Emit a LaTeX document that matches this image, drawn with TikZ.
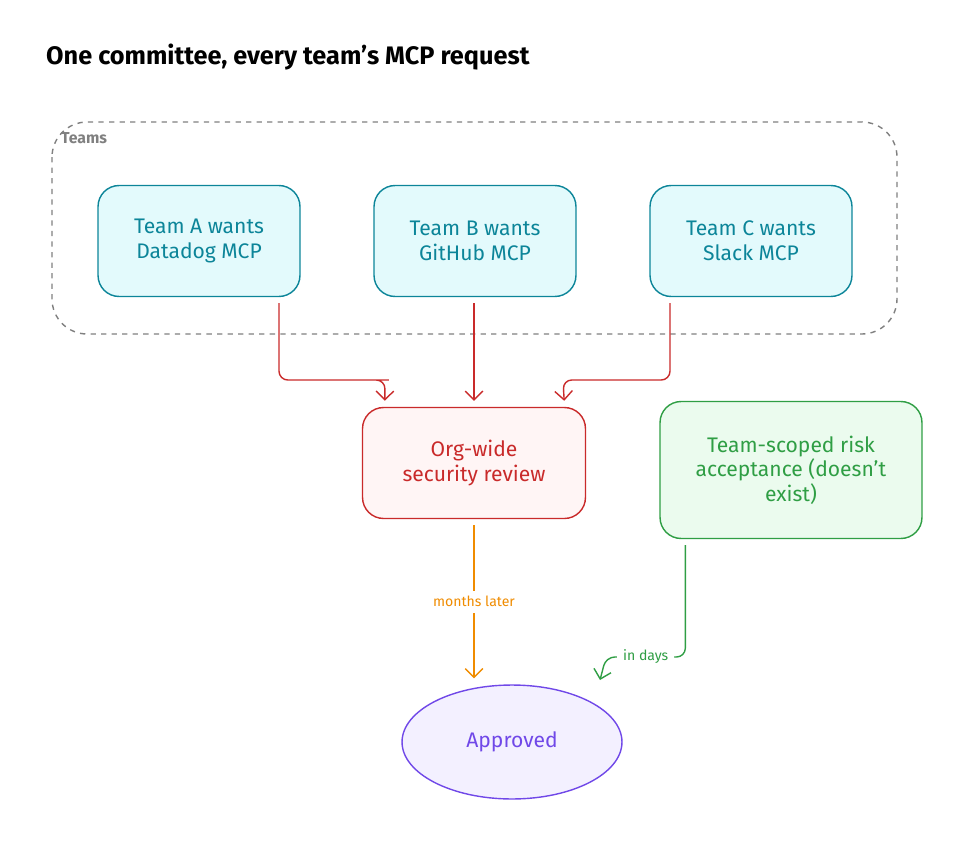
\documentclass[tikz,border=0pt]{standalone}
\usepackage{fontspec}
\setmainfont{Fira Sans}
\usetikzlibrary{positioning, calc, arrows.meta, shapes.geometric}
\definecolor{teal}{HTML}{0C8599}
\definecolor{tealfill}{HTML}{E3FAFC}
\definecolor{redline}{HTML}{C92A2A}
\definecolor{redfill}{HTML}{FFF5F5}
\definecolor{greenline}{HTML}{2F9E44}
\definecolor{greenfill}{HTML}{EBFBEE}
\definecolor{violet}{HTML}{7048E8}
\definecolor{violetfill}{HTML}{F3F0FF}
\definecolor{orangeline}{HTML}{F08C00}
\tikzset{
  teambox/.style={draw=teal, fill=tealfill, thick, rounded corners=12pt, text=teal,
    minimum width=4.04cm, minimum height=2.22cm, align=center, font=\large},
  arr/.style={->, >={Straight Barb[length=5pt]}, thick},
}
\begin{document}
\begin{tikzpicture}[x=0.02cm, y=-0.02cm]
\useasboundingbox (0,0) rectangle (963,841);
\node[anchor=west, font=\Large\bfseries] (title) at (40,57) {One committee, every team's MCP request};

\draw[gray, dashed, thick, rounded corners=20pt] (52,122) rectangle (897,334);
\node[anchor=west, gray, font=\small\bfseries] (teams) at (55,138) {Teams};

\node[teambox] (teamA) at (199,241) {Team A wants\\Datadog MCP};
\node[teambox] (teamB) at (475,241) {Team B wants\\GitHub MCP};
\node[teambox] (teamC) at (751,241) {Team C wants\\Slack MCP};

\node[draw=redline, fill=redfill, thick, rounded corners=12pt, text=redline, minimum width=4.46cm,
  minimum height=2.22cm, align=center, font=\large] (review) at (474,463) {Org-wide\\security review};
\node[draw=greenline, fill=greenfill, thick, rounded corners=12pt, text=greenline, minimum width=5.24cm,
  minimum height=2.74cm, align=center, font=\large] (scoped) at (791,470) {Team-scoped risk\\acceptance (doesn't\\exist)};
\node[ellipse, draw=violet, fill=violetfill, thick, text=violet, minimum width=4.4cm,
  minimum height=2.28cm, font=\large] (approved) at (512,742) {Approved};

\draw[arr, redline, rounded corners=5pt] ($(teamA.south)+(80,6)$) |- (380,380) -- (385,380) -- ($(review.north west)+(23,-6)$);
\draw[arr, redline] ($(teamB.south)+(-1,6)$) -- ($(review.north)+(0,-6)$);
\draw[arr, redline, rounded corners=5pt] ($(teamC.south)+(-81,6)$) |- (563,380) -- ($(review.north east)+(-22,-6)$);

\draw[arr, orangeline] ($(review.south)+(0,6)$) -- node[fill=white, font=\footnotesize, text=orangeline] (months) {months later} ($(approved.north)+(-38,-6)$);
\draw[arr, greenline, rounded corners=5pt] ($(scoped.south west)+(26,6)$) |- node[pos=0.75, fill=white, font=\footnotesize, text=greenline] (days) {in days} (606,657) -- (600,680);
\end{tikzpicture}
\end{document}
